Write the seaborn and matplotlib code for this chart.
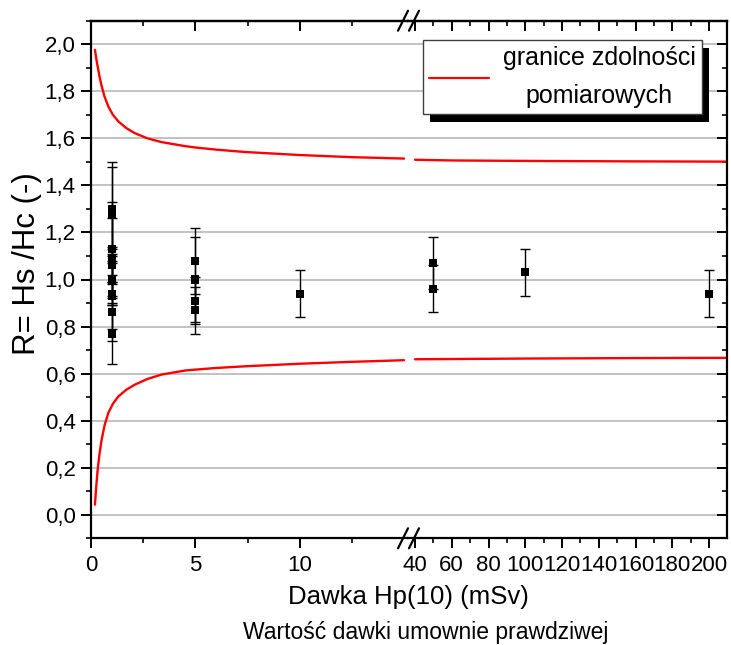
import numpy as np
import pandas as pd
import matplotlib
matplotlib.use("Agg")
import matplotlib.pyplot as plt
import seaborn as sns
from matplotlib.ticker import MultipleLocator, FixedLocator, FuncFormatter
from matplotlib.lines import Line2D
from matplotlib.patches import Rectangle

# ---------------- data ----------------
dose_points = [1, 1, 1, 1, 1, 1, 1, 1, 1, 1, 1,
               5, 5, 5, 5,
               10,
               50, 50,
               100,
               200]
ratio_points = [1.30, 1.28, 1.13, 1.09, 1.08, 1.06, 1.00, 0.94, 0.93, 0.86, 0.77,
                1.08, 1.00, 0.91, 0.87,
                0.94,
                1.07, 0.96,
                1.03,
                0.94]
ratio_err = [0.20, 0.20, 0.20, 0.17, 0.06, 0.07, 0.11, 0.05, 0.14, 0.12, 0.13,
             0.14, 0.18, 0.10, 0.10,
             0.10,
             0.11, 0.10,
             0.10,
             0.10]

limit_dose_left = [0.19, 0.25, 0.32, 0.41, 0.51, 0.65, 0.83, 1.05, 1.31, 1.7,
                   2.1, 2.7, 3.38, 4.5, 5.0, 6.0, 7.37, 10, 12.5, 15]
upper_left = [1.976, 1.94, 1.905, 1.862, 1.822, 1.777, 1.735, 1.700, 1.672, 1.643,
              1.622, 1.600, 1.584, 1.567, 1.561, 1.552, 1.542, 1.529, 1.520, 1.514]
lower_left = [0.043, 0.12, 0.191, 0.26, 0.319, 0.38, 0.433, 0.472, 0.503, 0.532,
              0.553, 0.577, 0.596, 0.613, 0.617, 0.624, 0.631, 0.642, 0.650, 0.657]

limit_dose_right = [40, 60, 80, 100, 130, 160, 210]
upper_right = [1.509, 1.506, 1.505, 1.504, 1.503, 1.502, 1.501]
lower_right = [0.661, 0.662, 0.663, 0.664, 0.665, 0.666, 0.667]

left_ticks = [0, 5, 10]
left_minor = [2.5, 7.5, 12.5]
right_ticks = [40, 60, 80, 100, 120, 140, 160, 180, 200]
right_minor = [50, 70, 90, 110, 130, 150, 170, 190]

legend_label = "granice zdolności\npomiarowych"
xlabel = "Dawka Hp(10) (mSv)"
xlabel2 = "Wartość dawki umownie prawdziwej"
ylabel = "R= Hs /Hc (-)"

# ---------------- style ----------------
sns.set_style("ticks", {"axes.edgecolor": "black", "text.color": "black",
                        "xtick.color": "black", "ytick.color": "black",
                        "axes.labelcolor": "black"})
plt.rcParams["font.family"] = ["Liberation Sans", "DejaVu Sans"]

W, H = 731, 645
fig = plt.figure(figsize=(W / 100, H / 100), dpi=100)

def fx(px):
    return px / W

def fy(py):
    return 1 - py / H

left_px, brk_px, right_px = 91, 408, 727
top_px, bot_px = 20.7, 538.3
ax1 = fig.add_axes([fx(left_px), fy(bot_px), (brk_px - left_px) / W, (bot_px - top_px) / H])
ax2 = fig.add_axes([fx(brk_px), fy(bot_px), (right_px - brk_px) / W, (bot_px - top_px) / H],
                   sharey=ax1)

pts = pd.DataFrame({"dose": dose_points, "ratio": ratio_points, "err": ratio_err})
lim_l = pd.DataFrame({"dose": limit_dose_left, "upper": upper_left, "lower": lower_left})
lim_r = pd.DataFrame({"dose": limit_dose_right, "upper": upper_right, "lower": lower_right})

for ax, lim, sel in [(ax1, lim_l, pts["dose"] <= 15), (ax2, lim_r, pts["dose"] > 15)]:
    sns.lineplot(data=lim, x="dose", y="upper", ax=ax, color="red", lw=1.7, legend=False)
    sns.lineplot(data=lim, x="dose", y="lower", ax=ax, color="red", lw=1.7, legend=False)
    sub = pts[sel]
    ax.errorbar(sub["dose"], sub["ratio"], yerr=sub["err"], fmt="none",
                ecolor="black", elinewidth=1.0, capsize=3.8, capthick=1.0, zorder=3)
    sns.scatterplot(data=sub, x="dose", y="ratio", ax=ax, marker="s", s=34,
                    color="black", edgecolor="none", zorder=4, legend=False)
    ax.set_xlabel("")
    ax.set_ylabel("")
    ax.yaxis.grid(True, which="major", color="#b8b8b8", lw=1.2)
    ax.set_axisbelow(True)
    for s in ax.spines.values():
        s.set_linewidth(1.6)
        s.set_color("black")

ax1.set_xlim(0, (brk_px - left_px) / 20.87)
ax2.set_xlim(40 - (415 - brk_px) / 1.8375, 200 + (right_px - 709) / 1.8375)
ax1.set_ylim(-0.1, 2.1)

ax1.yaxis.set_major_locator(MultipleLocator(0.2))
ax1.yaxis.set_minor_locator(MultipleLocator(0.1))
ax1.yaxis.set_major_formatter(FuncFormatter(lambda v, p: f"{v:.1f}".replace(".", ",").replace("-0,0", "0,0")))

ax1.xaxis.set_major_locator(FixedLocator(left_ticks))
ax1.xaxis.set_minor_locator(FixedLocator(left_minor))
ax2.xaxis.set_major_locator(FixedLocator(right_ticks))
ax2.xaxis.set_minor_locator(FixedLocator(right_minor))

ax1.spines["right"].set_visible(False)
ax2.spines["left"].set_visible(False)

tick_fs = 16
ax1.tick_params(axis="y", which="major", direction="out", length=7, width=1.4, labelsize=tick_fs, pad=4)
ax1.tick_params(axis="y", which="minor", direction="out", length=3.5, width=1.2)
ax2.yaxis.tick_right()
ax2.tick_params(axis="y", which="major", direction="in", length=7, width=1.4, labelright=False, labelleft=False)
ax2.tick_params(axis="y", which="minor", direction="in", length=3.5, width=1.2)
for ax in (ax1, ax2):
    ax.tick_params(axis="x", which="major", direction="out", length=7, width=1.4, labelsize=tick_fs, pad=5)
    ax.tick_params(axis="x", which="minor", direction="out", length=3.5, width=1.2)
    sec = ax.secondary_xaxis("top")
    sec.xaxis.set_major_locator(FixedLocator(ax.xaxis.get_majorticklocs()))
    sec.xaxis.set_minor_locator(FixedLocator(ax.xaxis.get_minorticklocs()))
    sec.tick_params(axis="x", which="major", direction="in", length=7, width=1.4, labeltop=False,
                    color="black")
    sec.tick_params(axis="x", which="minor", direction="in", length=3.5, width=1.2, color="black")
    sec.spines["top"].set_linewidth(1.6)
    sec.spines["top"].set_color("black")

# axis-break marks
for cx in (403, 414):
    for cy in (top_px, bot_px):
        fig.add_artist(Line2D([fx(cx - 5), fx(cx + 5)], [fy(cy + 10), fy(cy - 10)],
                              color="black", lw=1.6))

# legend with solid black shadow
handle = Line2D([0], [0], color="red", lw=1.6)
leg = ax2.legend(handles=[handle], labels=[legend_label], loc="upper left",
                 bbox_to_anchor=((423 - brk_px) / (right_px - brk_px), (bot_px - 40) / (bot_px - top_px)),
                 borderaxespad=0, fontsize=18, frameon=True, fancybox=False,
                 framealpha=1, edgecolor="#404040", handlelength=2.4, handletextpad=0.55,
                 borderpad=0.25)
leg.get_frame().set_linewidth(1.0)
for t in leg.get_texts():
    t.set_multialignment("center")
    t.set_linespacing(1.7)
fig.canvas.draw()
bb = leg.get_window_extent().transformed(ax2.transAxes.inverted())
ox, oy = 7 / (right_px - brk_px), 8 / (bot_px - top_px)
ax2.add_patch(Rectangle((bb.x0 + ox, bb.y0 - oy), bb.width, bb.height, transform=ax2.transAxes,
                        facecolor="black", edgecolor="none", zorder=4.9, clip_on=False))

fig.text(fx(408.5), fy(597), xlabel, ha="center", va="center", fontsize=18.5)
fig.text(fx(425.5), fy(633), xlabel2, ha="center", va="center", fontsize=16.5)
fig.text(fx(27), fy(264), ylabel, ha="center", va="center", rotation=90, fontsize=22.5)

fig.savefig("out.png", dpi=100)
